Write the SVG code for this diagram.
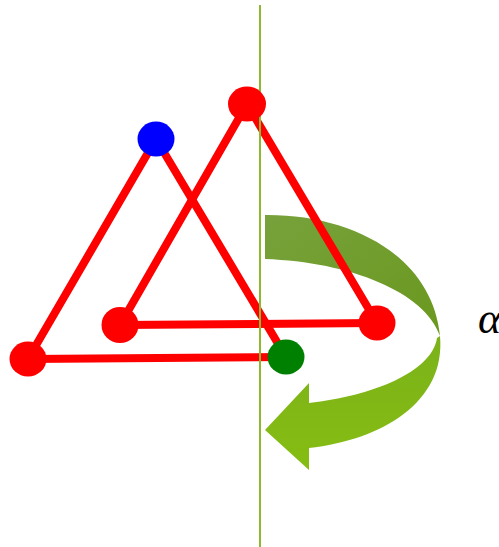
<svg xmlns="http://www.w3.org/2000/svg" width="499" height="547" viewBox="0 0 499 547">
<style>
.edge{stroke:#FF0000;stroke-width:8;stroke-linecap:round;fill:none}
.red{fill:#FF0000}
</style>
<defs>
<linearGradient id="gUp" x1="0" y1="0" x2="1" y2="1">
<stop offset="0" stop-color="#77A23C"/>
<stop offset="1" stop-color="#6A981E"/>
</linearGradient>
<linearGradient id="gLo" x1="0" y1="0" x2="0" y2="1">
<stop offset="0" stop-color="#7BB21A"/>
<stop offset="1" stop-color="#86BD12"/>
</linearGradient>
</defs>
<g id="arrow">
<path d="M265,215 C350,214 432,255 440,336 C425,292 350,262 265,259 Z" fill="url(#gUp)"/>
<path d="M440,336 C446,402 382,440 309,448 L309,470 L265,430 L309,383 L309,403 C372,396 432,372 437,338 Z" fill="url(#gLo)"/>
</g>
<g id="connectors">
<line class="edge" x1="156" y1="139" x2="28" y2="359"/>
<line class="edge" x1="156" y1="139" x2="286" y2="357"/>
<line class="edge" x1="28" y1="359" x2="286" y2="357"/>
<line class="edge" x1="247" y1="104" x2="120" y2="325"/>
<line class="edge" x1="247" y1="104" x2="377" y2="323"/>
<line class="edge" x1="120" y1="325" x2="377" y2="323"/>
</g>
<line id="axis" x1="260" y1="5" x2="260" y2="547" stroke="#8DB92E" stroke-width="2"/>
<g id="n-blue"><ellipse cx="156" cy="139" rx="18.5" ry="17.5" fill="#0000FF"/></g>
<g id="n-top"><ellipse cx="247" cy="104" rx="19" ry="17.5" class="red"/></g>
<g id="n-left"><ellipse cx="28" cy="359" rx="18.5" ry="17.5" class="red"/></g>
<g id="n-mid"><ellipse cx="120" cy="325" rx="18.5" ry="18" class="red"/></g>
<g id="n-right"><ellipse cx="377" cy="323" rx="18.5" ry="17.5" class="red"/></g>
<g id="n-green"><ellipse cx="286" cy="357" rx="18.5" ry="17.5" fill="#008000"/></g>
<text x="478" y="333" font-family="Liberation Serif, serif" font-style="italic" font-size="44" fill="#000">α</text>
</svg>
